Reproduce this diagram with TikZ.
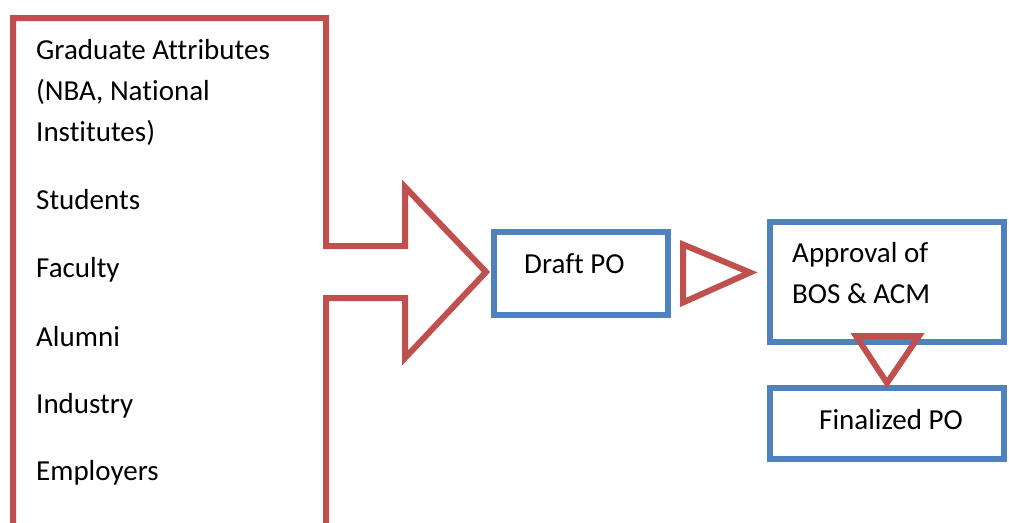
\documentclass[tikz,border=0pt]{standalone}
\usepackage{fontspec}
\setmainfont{Carlito}[Ligatures=NoCommon]
\definecolor{poRed}{RGB}{192,80,77}
\definecolor{poBlue}{RGB}{79,129,189}
\usetikzlibrary{calc}

\begin{document}
\begin{tikzpicture}[x=1pt,y=-1pt,
    redline/.style={draw=poRed, line width=6pt, line join=miter},
    bluebox/.style={draw=poBlue, line width=6pt, rectangle, inner sep=0pt, outer sep=0pt},
    lbl/.style={anchor=base west, inner sep=0pt, font=\fontsize{29}{41}\selectfont}]
    \useasboundingbox (0,0) rectangle (1009,522);
    \clip (0,0) rectangle (1009,522);

    % input panel with the big arrow
    \draw[redline] (13,540) -- (13,18) -- (326,18) -- (326,246) -- (405,246) -- (405,187)
        -- (486,272) -- (405,358) -- (405,298) -- (326,298) -- (326,540);
    \node[lbl] (ga1) at (36,59) {Graduate Attributes};
    \node[lbl] (ga2) at (36,100) {(NBA, National};
    \node[lbl] (ga3) at (36,141) {Institutes)};
    \node[lbl] (students) at (36,209) {Students};
    \node[lbl] (faculty) at (36,277) {Faculty};
    \node[lbl] (alumni) at (36,346) {Alumni};
    \node[lbl] (industry) at (36,413) {Industry};
    \node[lbl] (employers) at (36,480) {Employers};

    % boxes
    \node[bluebox, minimum width=174pt, minimum height=83pt] (draft) at (581,273.5) {};
    \node[bluebox, minimum width=234pt, minimum height=120pt] (approval) at (887,282) {};
    \node[bluebox, minimum width=234pt, minimum height=71pt] (final) at (887,423.5) {};

    \node[lbl] (drafttxt) at (524,273) {Draft PO};
    \node[lbl] (apptxt1) at (792,262) {Approval of};
    \node[lbl] (apptxt2) at (792,303) {BOS \& ACM};
    \node[lbl] (finaltxt) at (819,429) {Finalized PO};

    % hollow arrows
    \draw[redline] ($(draft.east)+(15,-29)$) -- ($(draft.east)+(15,29)$)
        -- ($(draft.east)+(82,-1)$) -- cycle;
    \draw[redline] ($(approval.south)+(-31,-6)$) -- ($(approval.south)+(32,-6)$)
        -- ($(final.north)+(0,-5)$) -- cycle;
\end{tikzpicture}
\end{document}
